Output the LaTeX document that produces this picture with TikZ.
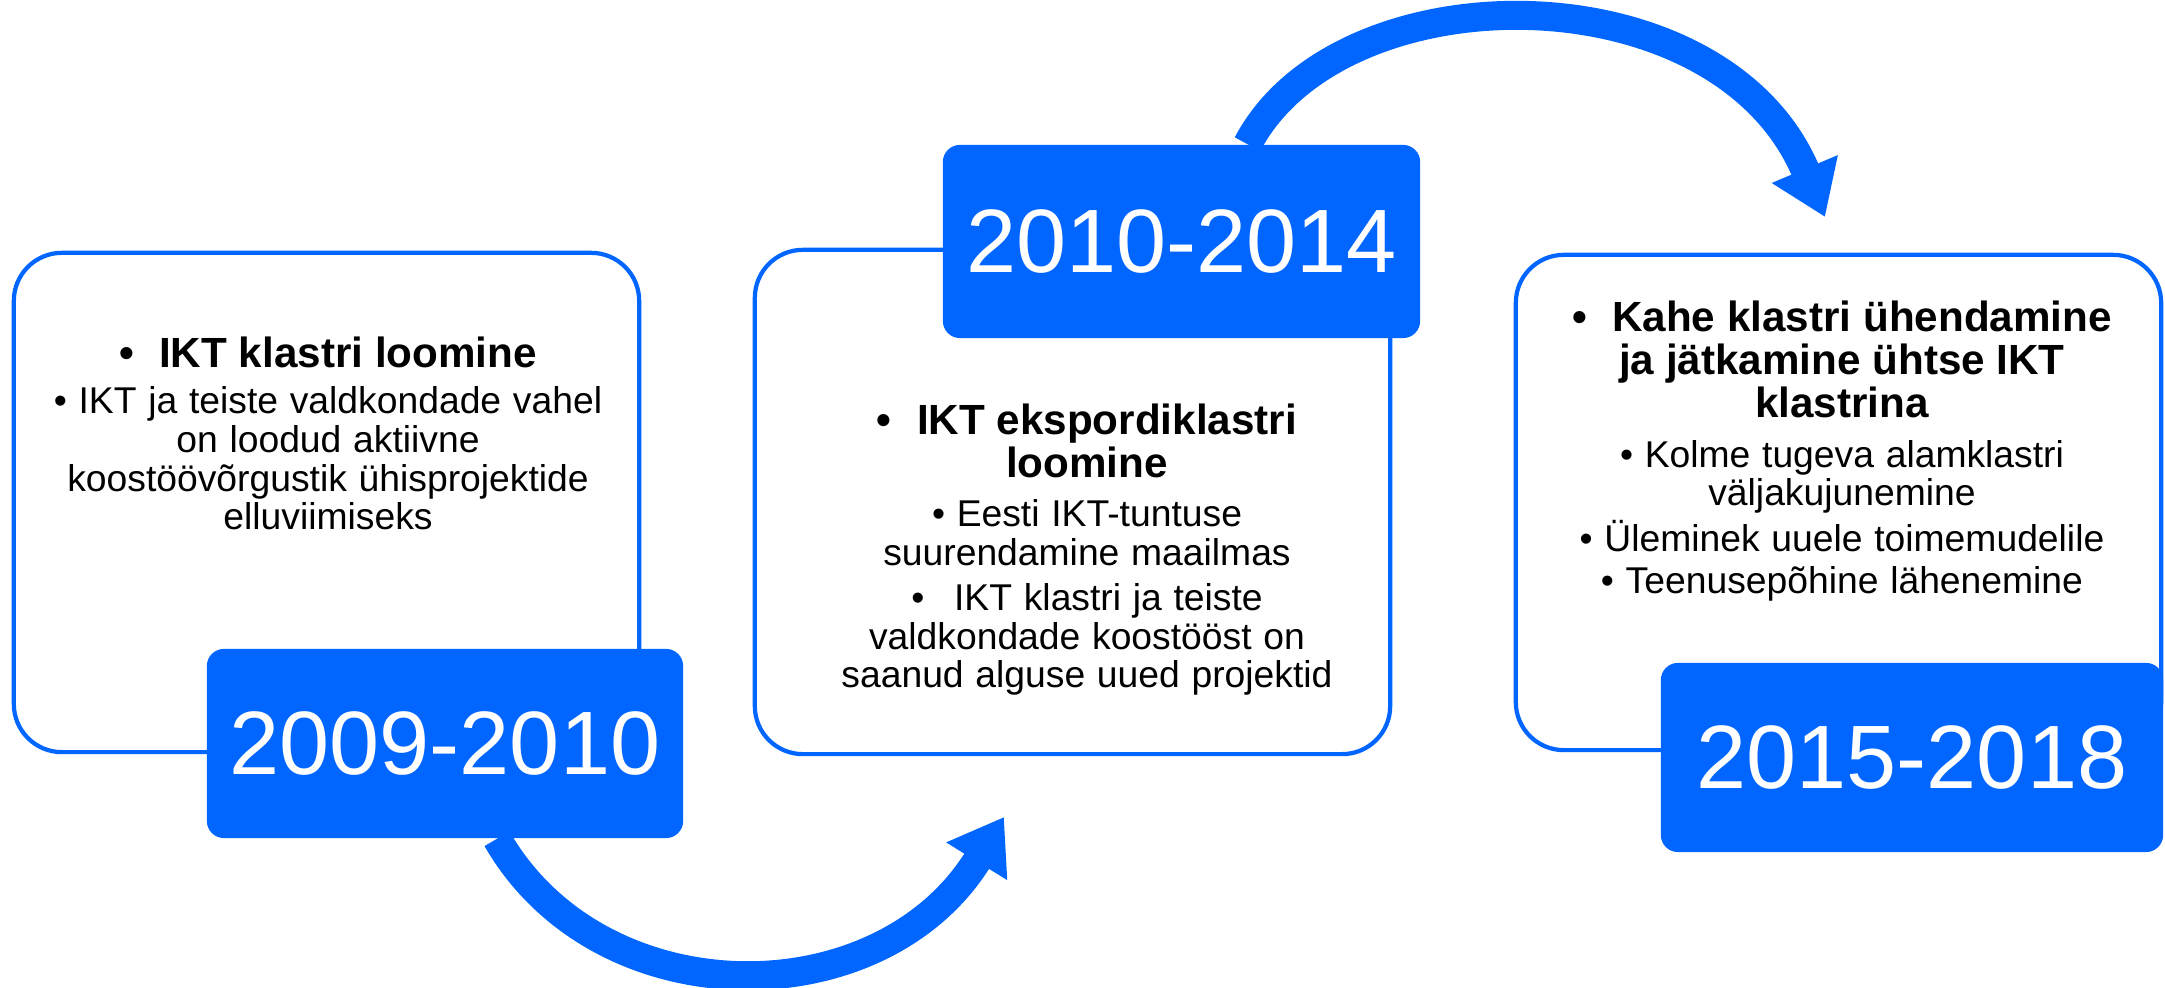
\documentclass[tikz,border=0pt]{standalone}
\usepackage{fontspec}
\setmainfont{Liberation Sans}
\usepackage{tikz}
\usepackage{xcolor}
\usetikzlibrary{shapes, positioning, arrows.meta}

\definecolor{iktblue}{RGB}{0,102,255}
\newcommand{\iktheading}{\fontsize{12}{12.3}\selectfont\bfseries}
\newcommand{\iktbody}{\fontsize{10.6}{11}\selectfont}

\begin{document}
\begin{tikzpicture}[x=0.01cm, y=0.01cm,
        frame/.style={draw=iktblue, line width=1.2pt, rounded corners=0.48cm, fill=white, inner sep=0pt},
        period/.style={fill=iktblue, rounded corners=0.17cm, text=white, inner sep=0pt,
            font=\fontsize{25.6}{28}\selectfont},
        notes/.style={align=center, inner sep=0pt, anchor=north, text width=6.3cm},
        flowarrow/.style={iktblue, line width=0.29cm, -{Triangle[width=0.68cm, length=0.52cm]}}]
    \useasboundingbox (0,0) rectangle (2165,988);

    \node[frame, minimum width=6.25cm, minimum height=4.99cm] (b1) at (326.5,485.5) {};
    \node[frame, minimum width=6.35cm, minimum height=5.04cm] (b2) at (1072.5,486) {};
    \node[frame, minimum width=6.45cm, minimum height=4.95cm] (b3) at (1838.5,485.5) {};

    \coordinate (e1) at (1004,171);
    \coordinate (e2) at (1825,771);

    \node[period, minimum width=4.76cm, minimum height=1.89cm] (y1) at (445,244.5) {2009-2010};
    \node[period, minimum width=4.77cm, minimum height=1.93cm] (y2) at (1181.5,746.5) {2010-2014};
    \node[period, minimum width=5.02cm, minimum height=1.89cm] (y3) at (1912,230.5) {2015-2018};

    \draw[flowarrow] ([xshift=0.52cm]y1.south) .. controls (600,-30) and (880,-30) .. (e1);
    \draw[flowarrow] ([xshift=0.66cm]y2.north) .. controls (1340,1020) and (1720,1020) .. (e2);

    \node[notes] (t1) at (328,652) {%
        {\iktheading \textbullet\hspace{0.6em}IKT klastri loomine\par}\vspace{2.2pt}
        {\iktbody \textbullet\ IKT ja teiste valdkondade vahel\\ on loodud aktiivne\\
        koostöövõrgustik ühisprojektide\\ elluviimiseks\par}};
    \node[notes] (t2) at (1087,585) {%
        {\iktheading \textbullet\hspace{0.6em}IKT ekspordiklastri\\ loomine\par}\vspace{3pt}
        {\iktbody \textbullet\ Eesti IKT-tuntuse\\ suurendamine maailmas\\[1.8pt]
        \textbullet\hspace{0.8em}IKT klastri ja teiste\\ valdkondade koostööst on\\
        saanud alguse uued projektid\par}};
    \node[notes] (t3) at (1842,688) {%
        {\iktheading \textbullet\hspace{0.6em}Kahe klastri ühendamine\\ ja jätkamine ühtse IKT\\
        klastrina\par}\vspace{3pt}
        {\iktbody \textbullet\ Kolme tugeva alamklastri\\ väljakujunemine\\[0.9pt]
        \textbullet\ Üleminek uuele toimemudelile\\[0.9pt]
        \textbullet\ Teenusepõhine lähenemine\par}};
\end{tikzpicture}
\end{document}
